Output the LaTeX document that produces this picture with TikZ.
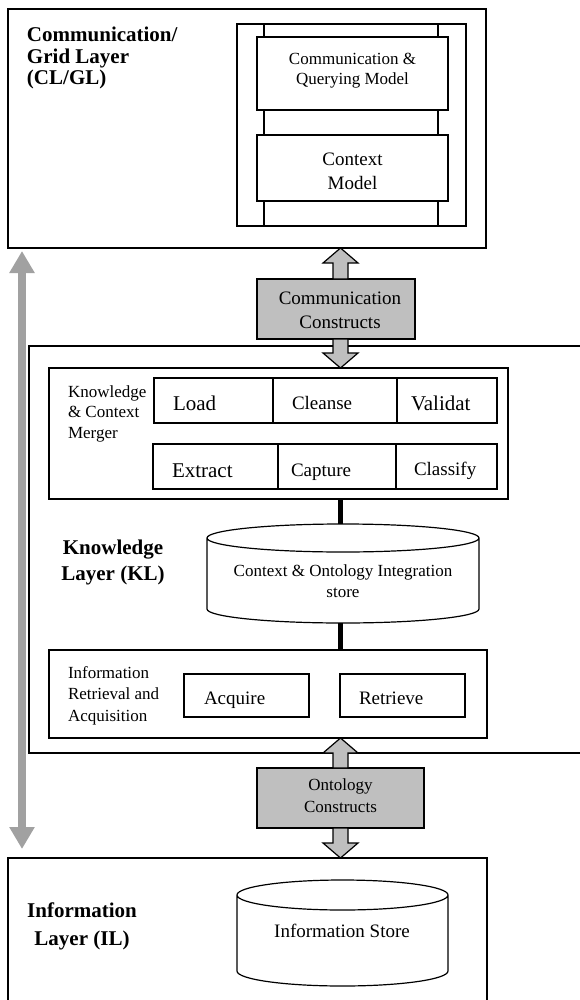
\documentclass[tikz,border=0pt]{standalone}
\usepackage{fontspec}
\setmainfont{Liberation Serif}
\usetikzlibrary{calc,arrows.meta}

\newcommand{\fs}[2]{\fontsize{#1}{#2}\selectfont}

\begin{document}
\begin{tikzpicture}[x=1pt, y=-1pt,
  every node/.style={inner sep=0pt, outer sep=0pt},
  frame/.style={draw, line width=1.2pt},
  cell/.style={frame, fill=white},
  shade/.style={frame, fill=black!25},
  dart/.style={line width=1.2pt, draw, fill=black!25, line join=miter},
  link/.style={line width=5pt},
  rail/.style={line width=8pt, draw=black!37,
    {Triangle[width=24pt,length=22pt]}-{Triangle[width=24pt,length=22pt]}},
  layer/.style={font=\fs{21}{22}\bfseries, align=center},
  big/.style={font=\fs{21}{24}},
  mid/.style={font=\fs{19}{24}, align=center},
  small/.style={font=\fs{17}{20.5}, align=center}]
  % --- Helper: \panel{name}{style}{x1}{y1}{x2}{y2}: a box from corner to corner
  \newcommand{\panel}[6]{%
    \node[#2, minimum width={(#5-#3)*1pt}, minimum height={(#6-#4)*1pt}]
      (#1) at ({(#3+#5)/2},{(#4+#6)/2}) {};}
  % --- Helper: \drum{name}{x1}{y1}{x2}{y2}{ry}: a data store cylinder
  \newcommand{\drum}[6]{%
    \node[minimum width={(#4-#2)*1pt}, minimum height={(#5-#3)*1pt}]
      (#1) at ({(#2+#4)/2},{(#3+#5)/2}) {};
    \draw[frame, fill=white] (#2,{#3+#6}) -- (#2,{#5-#6})
      arc[start angle=180, end angle=0, x radius={(#4-#2)/2}, y radius=#6]
      -- (#4,{#3+#6})
      arc[start angle=0, end angle=-180, x radius={(#4-#2)/2}, y radius=#6]
      arc[start angle=180, end angle=0, x radius={(#4-#2)/2}, y radius=#6];}
  % --- Helper: \dart{tip}{foot}{sign}: block arrow head at tip, shaft to foot
  \newcommand{\dart}[3]{%
    \draw[dart] (#1) -- ++(17.5,{15*(#3)}) -- ++(-10,0)
      -- ($(#2)+(7.5,0)$) -- ($(#2)+(-7.5,0)$)
      -- ($(#1)+(-7.5,{15*(#3)})$) -- ++(-10,0) -- cycle;}

  \useasboundingbox (0,0) rectangle (579,1000);
  \coordinate (axis) at (340.5,0);

  % Communication / Grid layer
  \panel{cl}{frame}{8}{9}{486}{248}
  \panel{stack}{frame}{237}{24}{466}{226}
  \draw[frame] ($(stack.north west)+(27,0)$) -- ($(stack.south west)+(27,0)$);
  \draw[frame] ($(stack.north east)+(-28,0)$) -- ($(stack.south east)+(-28,0)$);
  \panel{cqm}{cell}{257}{37}{448}{110}
  \panel{ctx}{cell}{257}{135}{448}{201}
  % multi-line texts sit on their last baseline
  \node[layer, font=\fs{21}{21.5}\bfseries, align=left, anchor=base west] at (27,85) {Communication/\\Grid Layer\\(CL/GL)};
  \node[small, font=\fs{17}{20}, anchor=base] at (352.5,85) {Communication \&\\Querying Model};
  \node[mid, anchor=base] at (352.5,190) {Context\\Model};

  % Knowledge layer
  \draw[frame] (590,346) -| (29,753) -- (590,753);
  \panel{merger}{frame}{49}{368}{508}{499}
  \panel{load}{frame}{154}{378}{273}{423}
  \panel{cleanse}{frame}{273}{378}{397}{423}
  \panel{validat}{frame}{397}{378}{497}{423}
  \panel{extract}{frame}{153}{444}{278}{489}
  \panel{capture}{frame}{278}{444}{396}{489}
  \panel{classify}{frame}{396}{444}{497}{489}
  \node[small, align=left, anchor=base west] at (68,438) {Knowledge\\\& Context\\Merger};
  \node[big, anchor=base west] at (173,410.5) {Load};
  \node[mid, anchor=base west] at (292,409) {Cleanse};
  \node[big, anchor=base west] at (411,410.5) {Validat};
  \node[big, anchor=base west] at (172,477) {Extract};
  \node[mid, anchor=base west] at (291,476) {Capture};
  \node[mid, anchor=base west] at (414,475) {Classify};
  \node[layer, font=\fs{21}{26}\bfseries, anchor=base] at (113,580) {Knowledge\\Layer (KL)};
  \drum{cis}{207}{524}{479}{623}{14}
  \node[small, font=\fs{17}{21}, anchor=base] at (343,597) {Context \& Ontology Integration\\store};
  \panel{ira}{frame}{49}{650}{487}{738}
  \panel{acquire}{frame}{184}{674}{309}{717}
  \panel{retrieve}{frame}{340}{674}{465}{717}
  \node[small, font=\fs{17}{21.3}, align=left, anchor=base west] at (68,721) {Information\\Retrieval and\\Acquisition};
  \node[mid, anchor=base west] at (204,704) {Acquire};
  \node[mid, anchor=base west] at (359,704) {Retrieve};
  \draw[link] (merger.south -| axis) -- (cis.north -| axis);
  \draw[link] (cis.south -| axis) -- (ira.north -| axis);

  % Information layer
  \draw[frame] (8,1010) |- (487,858) -- (487,1010);
  \coordinate (iltop) at (340.5,858);
  \drum{store}{237}{880}{448}{986}{15}
  \node[mid, anchor=base] at (342,937) {Information Store};
  \node[layer, font=\fs{21}{28}\bfseries, anchor=base] at (82,945) {Information\\Layer (IL)};

  % Constructs passed between the layers
  \panel{cc}{shade}{257}{279}{415}{339}
  \node[mid, anchor=base] at (340,328) {Communication\\Constructs};
  \panel{oc}{shade}{257}{768}{424}{828}
  \node[small, font=\fs{17}{22}, anchor=base] at (340.5,812) {Ontology\\Constructs};
  \dart{cl.south -| axis}{cc.north -| axis}{1}
  \dart{merger.north -| axis}{cc.south -| axis}{-1}
  \dart{ira.south -| axis}{oc.north -| axis}{1}
  \dart{iltop}{oc.south -| axis}{-1}

  % Flow between top and bottom layers
  \coordinate (up) at (22,251);
  \coordinate (dn) at (22,849);
  \draw[rail] (up) -- (dn);
\end{tikzpicture}
\end{document}
